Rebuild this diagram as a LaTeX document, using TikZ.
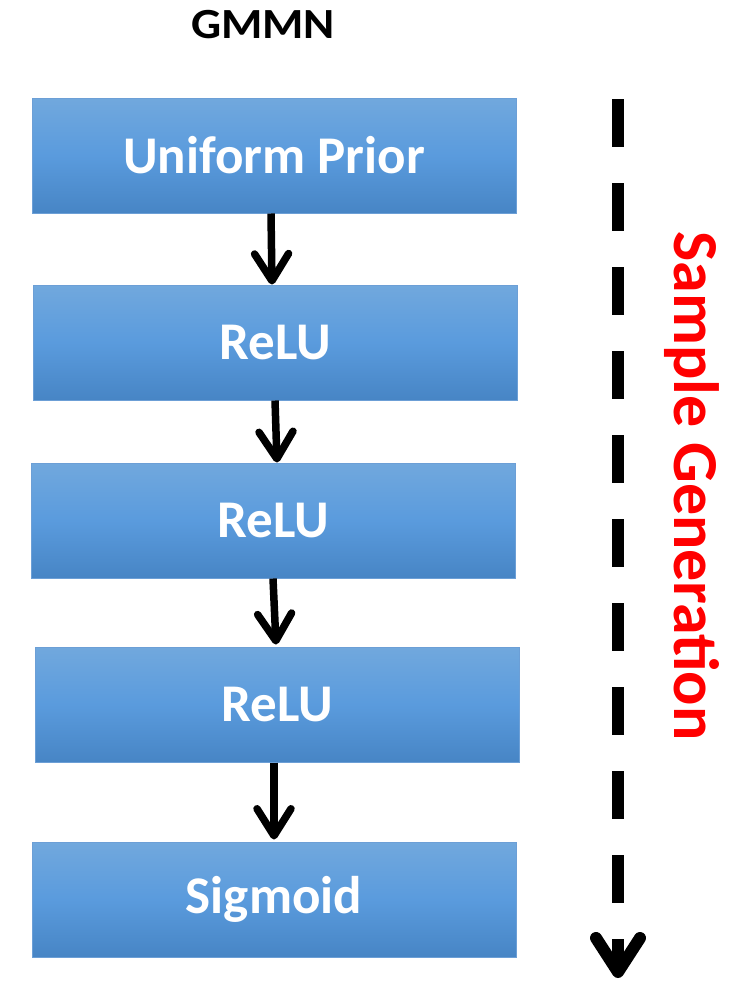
\documentclass[tikz,border=0pt]{standalone}
\usepackage{fontspec}
\setmainfont{Carlito}
\usetikzlibrary{arrows.meta}
\definecolor{boxtop}{HTML}{71A8DD}
\definecolor{boxmid}{HTML}{5A9BDD}
\definecolor{boxbot}{HTML}{4785C5}
\definecolor{boxedge}{HTML}{6C9FD6}
\tikzset{
  layer/.style={draw=boxedge, line width=1pt, top color=boxtop, bottom color=boxbot, middle color=boxmid,
    minimum width=484pt, minimum height=115pt, inner sep=0pt, text=white,
    font=\fontsize{53}{60}\selectfont\bfseries},
  flow/.style={line width=7.5pt, -{Straight Barb[length=27pt,width=34pt,line cap=round,line join=round]}},
  gen/.style={line width=12pt, dash pattern=on 48pt off 36pt, -{Straight Barb[length=34pt,width=44pt,line cap=round,line join=round]}}
}
\begin{document}
\begin{tikzpicture}[x=1pt,y=-1pt]
\useasboundingbox (0,0) rectangle (737,982);
\node[font=\fontsize{43}{50}\selectfont\bfseries] (title) at (263,25) {\scalebox{1.1}[1]{GMMN}};
\node[layer] (b1) at (274,155.5) {Uniform Prior};
\node[layer] (b2) at (275,342.5) {\raisebox{-3pt}{ReLU}};
\node[layer] (b3) at (273,520.5) {ReLU};
\node[layer] (b4) at (277,704.5) {ReLU};
\node[layer] (b5) at (274,899.5) {\raisebox{-5pt}{Sigmoid}};
\draw[flow] ([xshift=-3pt]b1.south) -- ([xshift=-3pt]b2.north);
\draw[flow] ([xshift=0pt]b2.south) -- ([xshift=4pt]b3.north);
\draw[flow] ([xshift=0pt]b3.south) -- ([xshift=-1pt,yshift=2pt]b4.north);
\draw[flow] ([xshift=-3pt]b4.south) -- ([xshift=0pt,yshift=2pt]b5.north);
\coordinate (gtop) at (618,99);
\coordinate (gend) at (618,978);
\draw[gen] (gtop) -- (gend);
\node[text=red, rotate=-90, font=\fontsize{64}{70}\selectfont\bfseries] (label) at (692,486) {Sample Generation};
\end{tikzpicture}
\end{document}
